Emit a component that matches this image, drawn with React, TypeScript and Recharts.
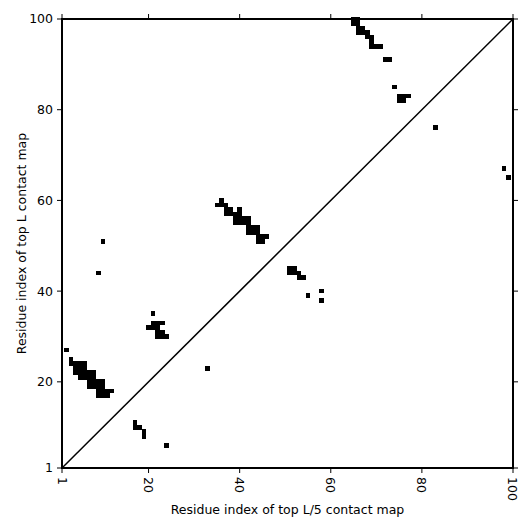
import React from "react";
import { ScatterChart, Scatter, XAxis, YAxis, ReferenceLine, ReferenceArea } from "recharts";

// Residue pairs [x, y] above the diagonal (top L contact map)
const upperContacts: number[][] = [
  [2, 27], [3, 25], [3, 24], [4, 24], [5, 24], [6, 24], [4, 23], [5, 23], [6, 23],
  [4, 22], [5, 22], [6, 22], [7, 22], [8, 22], [5, 21], [6, 21], [7, 21], [8, 21],
  [7, 20], [8, 20], [9, 20], [10, 20], [7, 19], [8, 19], [9, 19], [10, 19],
  [9, 18], [10, 18], [11, 18], [12, 18], [9, 17], [10, 17], [11, 17],
  [9, 44], [10, 51],
  [21, 35], [21, 33], [22, 33], [23, 33], [20, 32], [21, 32], [22, 32], [22, 31], [23, 31],
  [22, 30], [23, 30], [24, 30],
  [36, 60], [35, 59], [36, 59], [37, 59], [37, 58], [38, 58], [40, 58], [37, 57], [38, 57],
  [39, 57], [40, 57], [39, 56], [40, 56], [41, 56], [42, 56], [39, 55], [40, 55], [41, 55],
  [42, 55], [42, 54], [43, 54], [44, 54], [42, 53], [43, 53], [44, 53], [44, 52], [45, 52],
  [46, 52], [44, 51], [45, 51],
  [65, 100], [66, 100], [65, 99], [66, 99], [66, 98], [67, 98], [66, 97], [67, 97], [68, 97],
  [68, 96], [69, 96], [69, 95], [69, 94], [70, 94], [71, 94], [72, 91], [73, 91], [74, 85],
  [75, 83], [76, 83], [77, 83], [75, 82], [76, 82],
];

// Residue pairs [x, y] below the diagonal (top L/5 contact map)
const lowerContacts: number[][] = [
  [17, 11], [17, 10], [18, 10], [19, 9], [19, 8], [24, 6], [33, 23],
  [51, 45], [52, 45], [51, 44], [52, 44], [53, 44], [53, 43], [54, 43],
  [55, 39], [58, 40], [58, 38], [83, 76], [98, 67], [99, 65],
];

const axisTicks = [1, 20, 40, 60, 80, 100];
const axisDomain = [1, 100];
const xLabel = "Residue index of top L/5 contact map";
const yLabel = "Residue index of top L contact map";

const cellData = [...upperContacts, ...lowerContacts].map(([x, y]) => ({ x, y }));

const FONT = "DejaVu Sans";
const CELL = 4.7;

const CellShape = (props: any) => {
  const { cx, cy } = props;
  if (cx == null || cy == null) return null;
  return (
    <rect
      x={cx - CELL / 2}
      y={cy - CELL / 2}
      width={CELL}
      height={CELL}
      fill="#000"
      shapeRendering="crispEdges"
    />
  );
};

const XTick = (props: any) => {
  const { x, y, payload } = props;
  return (
    <text
      x={x}
      y={y}
      transform={`rotate(90 ${x} ${y})`}
      textAnchor="start"
      dominantBaseline="central"
      fontSize={12.5}
      fontFamily={FONT}
      fill="#000"
    >
      {payload.value}
    </text>
  );
};

const Nothing = () => <g />;

export default function App() {
  return (
    <ScatterChart width={516} height={516} margin={{ top: 10, right: 10, bottom: 0, left: 0 }}>
      <XAxis
        xAxisId="b"
        type="number"
        dataKey="x"
        domain={axisDomain}
        ticks={axisTicks}
        height={56}
        tickSize={5}
        tickMargin={4}
        stroke="#000"
        axisLine={{ strokeWidth: 2 }}
        tick={<XTick />}
        label={{
          value: xLabel,
          position: "insideBottom",
          offset: 10,
          style: { fontSize: 12.5, fontFamily: FONT, fill: "#000" },
        }}
      />
      <XAxis
        xAxisId="t"
        orientation="top"
        type="number"
        dataKey="x"
        domain={axisDomain}
        ticks={axisTicks}
        height={1}
        tickSize={5}
        stroke="#000"
        axisLine={{ strokeWidth: 2 }}
        tick={<Nothing />}
      />
      <YAxis
        yAxisId="l"
        type="number"
        dataKey="y"
        domain={axisDomain}
        ticks={axisTicks}
        width={54}
        tickSize={5}
        tickMargin={4}
        stroke="#000"
        axisLine={{ strokeWidth: 2 }}
        tick={{ fontSize: 12.5, fontFamily: FONT, fill: "#000" }}
        label={{
          value: yLabel,
          angle: -90,
          position: "insideLeft",
          offset: 14,
          style: { fontSize: 12.5, fontFamily: FONT, fill: "#000", textAnchor: "middle" },
        }}
      />
      <YAxis
        yAxisId="r"
        orientation="right"
        type="number"
        dataKey="y"
        domain={axisDomain}
        ticks={axisTicks}
        width={1}
        tickSize={5}
        stroke="#000"
        axisLine={{ strokeWidth: 2 }}
        tick={<Nothing />}
      />
      <Scatter
        xAxisId="t"
        yAxisId="r"
        data={cellData}
        shape={<Nothing />}
        isAnimationActive={false}
      />
      <Scatter
        xAxisId="b"
        yAxisId="l"
        data={cellData}
        shape={<CellShape />}
        isAnimationActive={false}
      />
      <ReferenceLine
        xAxisId="b"
        yAxisId="l"
        segment={[
          { x: axisDomain[0], y: axisDomain[0] },
          { x: axisDomain[1], y: axisDomain[1] },
        ]}
        stroke="#000"
        strokeWidth={1.5}
        ifOverflow="visible"
      />
      <ReferenceArea
        xAxisId="b"
        yAxisId="l"
        x1={axisDomain[0]}
        x2={axisDomain[1]}
        y1={axisDomain[0]}
        y2={axisDomain[1]}
        fill="none"
        fillOpacity={0}
        stroke="#000"
        strokeWidth={2}
        strokeOpacity={1}
        ifOverflow="visible"
      />
    </ScatterChart>
  );
}
